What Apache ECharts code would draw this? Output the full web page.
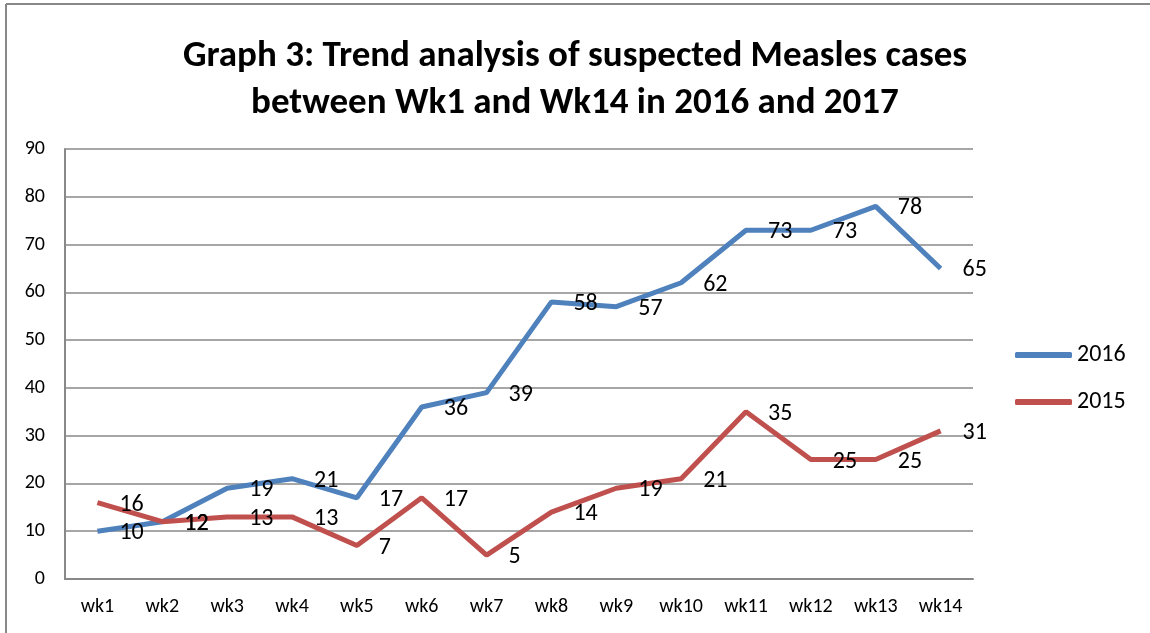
<!DOCTYPE html>
<html><head><meta charset="utf-8">
<script src="https://cdn.jsdelivr.net/npm/echarts@6/dist/echarts.min.js"></script>
<style>html,body{margin:0;padding:0;background:#fff}#c{width:1150px;height:633px}</style>
</head><body><div id="c"></div>
<script>
const categories = ['wk1','wk2','wk3','wk4','wk5','wk6','wk7','wk8','wk9','wk10','wk11','wk12','wk13','wk14'];
const values2016 = [10,12,19,21,17,36,39,58,57,62,73,73,78,65];
const values2015 = [16,12,13,13,7,17,5,14,19,21,35,25,25,31];
const titleLines = 'Graph 3: Trend analysis of suspected Measles cases\nbetween Wk1 and Wk14 in 2016 and 2017';
const FONT = 'Carlito, Lato, "Open Sans", sans-serif';

const chart = echarts.init(document.getElementById('c'));
const lbl = {show:true, position:'right', distance:22, offset:[0,2], fontSize:24, color:'#000', fontFamily:FONT};
chart.setOption({
  animation:false,
  textStyle:{fontFamily:FONT},
  graphic:[
    {type:'line', shape:{x1:6,y1:4,x2:1150,y2:4}, style:{stroke:'#888',lineWidth:2}},
    {type:'line', shape:{x1:6,y1:4,x2:6,y2:633}, style:{stroke:'#888',lineWidth:2}}
  ],
  title:{text:titleLines, left:'center', top:28, textStyle:{fontSize:37, fontWeight:'bold', color:'#000', fontFamily:FONT, lineHeight:47}},
  legend:{orient:'vertical', left:1010, top:338, itemWidth:57, itemHeight:6, itemGap:23, icon:'roundRect',
    textStyle:{fontSize:24, color:'#000', fontFamily:FONT}, data:['2016','2015']},
  grid:{left:65, right:177, top:149, bottom:54},
  xAxis:{type:'category', data:categories, boundaryGap:true,
    axisLine:{lineStyle:{color:'#888',width:2}}, axisTick:{show:false},
    axisLabel:{interval:0, fontSize:20, color:'#000', fontFamily:FONT, margin:18}},
  yAxis:{type:'value', min:0, max:90, interval:10,
    axisLine:{show:true, lineStyle:{color:'#888',width:2}}, axisTick:{show:false},
    splitLine:{lineStyle:{color:'#888',width:1.5}},
    axisLabel:{fontSize:20, color:'#000', fontFamily:FONT, margin:20}},
  series:[
    {name:'2016', type:'line', data:values2016, symbol:'circle', symbolSize:0.01, lineStyle:{width:5,color:'#4F81BD'}, itemStyle:{color:'#4F81BD'}, label:lbl},
    {name:'2015', type:'line', data:values2015, symbol:'circle', symbolSize:0.01, lineStyle:{width:5,color:'#C0504D'}, itemStyle:{color:'#C0504D'}, label:lbl}
  ]
});
</script></body></html>
